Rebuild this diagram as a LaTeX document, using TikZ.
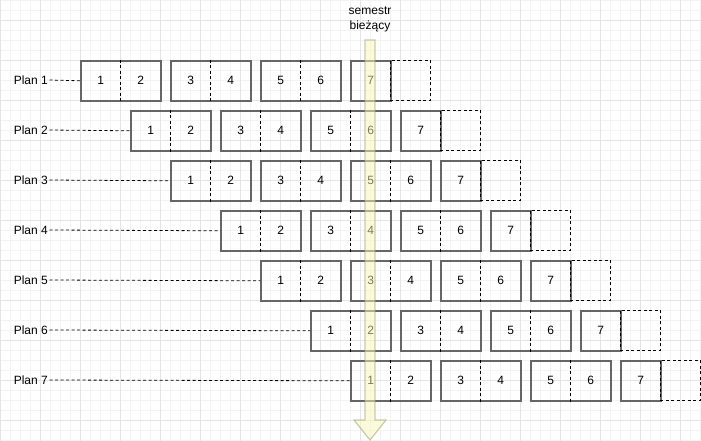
\documentclass[tikz,border=0pt]{standalone}
\usepackage{fontspec}
\setmainfont{Liberation Sans}
\usetikzlibrary{calc}
\definecolor{boxgray}{HTML}{666666}
\definecolor{gridminor}{HTML}{F3F3F3}
\definecolor{gridmajor}{HTML}{E4E4E4}
\definecolor{arrowfill}{HTML}{F8F8B8}
\definecolor{arrowline}{HTML}{9A9A70}
\begin{document}
\begin{tikzpicture}[x=1pt,y=-1pt,
  font=\fontsize{12}{14}\selectfont,
  pairbox/.style={draw=boxgray, line width=1.6pt, minimum width=80pt, minimum height=40pt, inner sep=0pt, anchor=north west},
  singlebox/.style={draw=boxgray, line width=1.6pt, minimum width=40pt, minimum height=40pt, inner sep=0pt, anchor=north west},
  ghostbox/.style={draw=black, line width=0.8pt, dash pattern=on 3pt off 2.5pt, minimum width=40pt, minimum height=40pt, inner sep=0pt, anchor=north west},
  divider/.style={draw=black, line width=0.8pt, dash pattern=on 3pt off 2.5pt},
  leader/.style={draw=black, line width=0.8pt, dash pattern=on 3pt off 2.5pt},
  planlabel/.style={anchor=east, inner sep=1.5pt},
  nowarrow/.style={fill=arrowfill, fill opacity=0.5, draw=arrowline, draw opacity=0.5, line width=1.2pt, line join=miter}
]
\useasboundingbox (0,0) rectangle (701,441);
\fill[white] (0,0) rectangle (701,441);
% grid
\foreach \x in {0,10,...,700} \draw[gridminor, line width=0.6pt] (\x,0) -- (\x,441);
\foreach \y in {0,10,...,440} \draw[gridminor, line width=0.6pt] (0,\y) -- (701,\y);
\foreach \x in {0,40,...,700} \draw[gridmajor, line width=0.7pt] (\x,0) -- (\x,441);
\foreach \y in {20,60,...,440} \draw[gridmajor, line width=0.7pt] (0,\y) -- (701,\y);

% plans
\foreach \p/\xo/\yo in {1/80/60, 2/130/110, 3/170/160, 4/220/210, 5/260/260, 6/310/310, 7/350/360}{
  \foreach \k in {0,1,2}{
    \pgfmathtruncatemacro{\a}{2*\k+1}
    \pgfmathtruncatemacro{\b}{2*\k+2}
    \node[pairbox] (p\p b\k) at (\xo+90*\k,\yo) {};
    \draw[divider] (p\p b\k.north) -- (p\p b\k.south);
    \node (p\p b\k l) at ($(p\p b\k.center)+(-20,0)$) {\a};
    \node (p\p b\k r) at ($(p\p b\k.center)+(20,0)$) {\b};
  }
  \node[singlebox] (p\p last) at (\xo+270,\yo) {7};
  \node[ghostbox] (p\p ghost) at (\xo+310,\yo) {};
  \node[planlabel] (lab\p) at (49.5,\yo+20) {Plan \p};
  \draw[leader] (lab\p.east) -- (p\p b0.west);
}

% current semester arrow
\path[nowarrow] (365,40) -- (375,40) -- (375,420) -- (386,420) -- (370,440) -- (354,420) -- (365,420) -- cycle;
\node[align=center, font=\fontsize{12}{15}\selectfont] (cur) at (370,19) {semestr\\bieżący};
\end{tikzpicture}
\end{document}
